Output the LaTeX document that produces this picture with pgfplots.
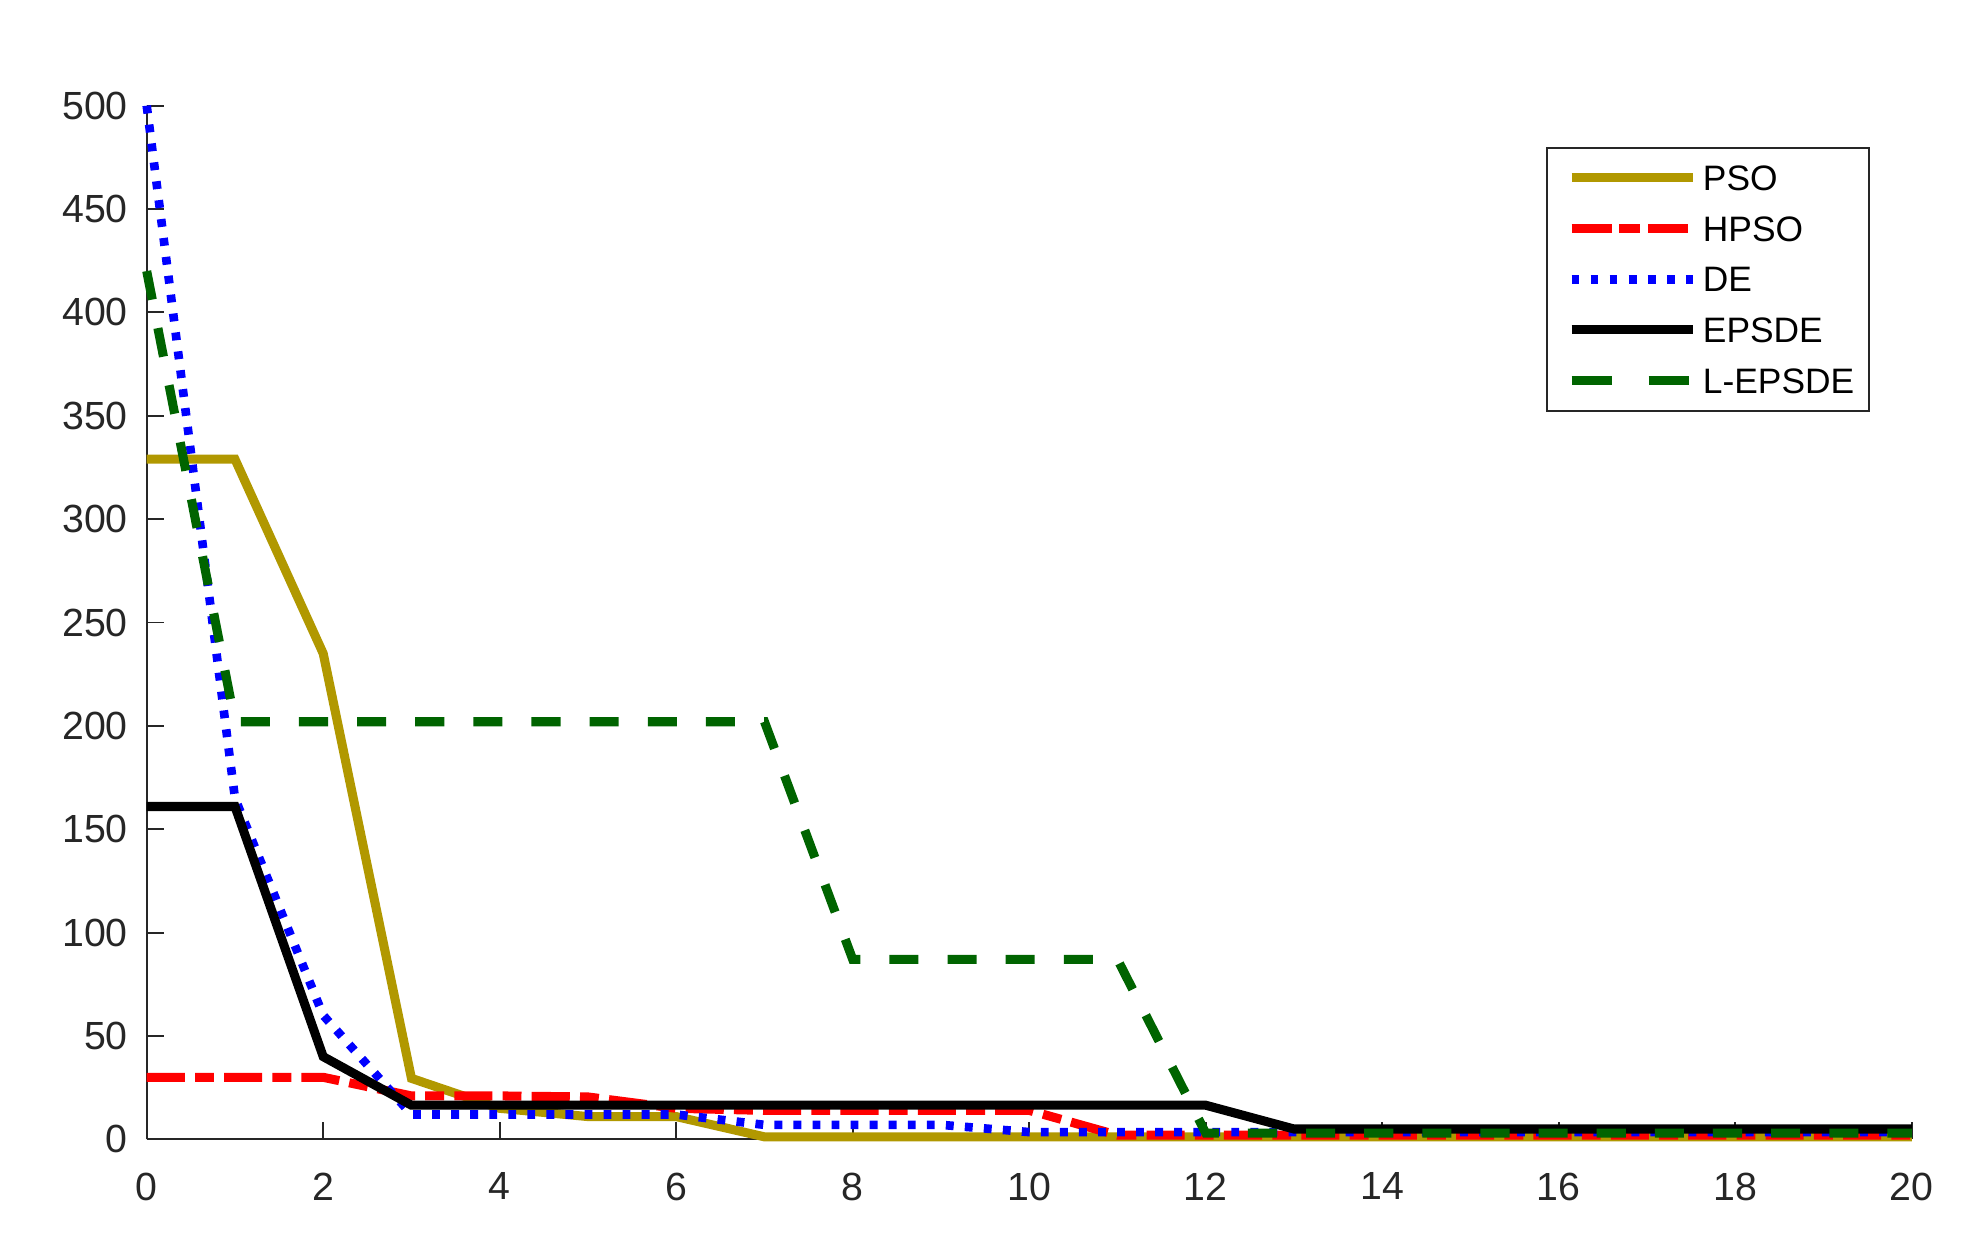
\documentclass[border=0pt]{standalone}
\usepackage{fontspec}
\setmainfont{Liberation Sans}
\usepackage{pgfplots}
\pgfplotsset{compat=1.18}
\definecolor{psoc}{RGB}{177,152,0}
\definecolor{grn}{RGB}{0,100,0}
\definecolor{axc}{RGB}{38,38,38}
\begin{document}
\begin{tikzpicture}
\useasboundingbox (-37.35pt,-26.65pt) rectangle (462.65pt,290.05pt);
\begin{axis}[
  at={(0pt,0pt)}, anchor=south west,
  scale only axis, width=449.35pt, height=263.15pt,
  xmin=0, xmax=20, ymin=0, ymax=500,
  axis x line*=bottom, axis y line*=left,
  axis line style={axc, line width=0.5pt, -},
  xtick={0,2,...,20}, ytick={0,50,...,500},
  tick align=inside, major tick length=4.5pt,
  tick style={axc, line width=0.5pt},
  ticklabel style={font=\fontsize{10}{12}\selectfont, text=axc},
  /pgf/number format/assume math mode=true,
  xticklabel style={yshift=-5pt},
  yticklabel style={xshift=-1.3pt},
  clip=false,
  legend cell align=left,
  legend style={at={(0.9764,0.96)}, anchor=north east, draw=axc, line width=0.5pt, fill=white,
    font=\fontsize{9}{10}\selectfont, text=black,
    inner xsep=3.8pt, inner ysep=4.4pt, row sep=6.45pt, column sep=1.3pt,
    nodes={inner sep=0pt, text height=6.45pt, text depth=0pt}},
  legend image code/.code={\path (0pt,0pt); \draw[#1] (1.3pt,0pt) -- (32.3pt,0pt);},
]
\addplot[psoc, line width=2.3pt] coordinates {
(0,329) (1,329) (2,235) (3,29.5) (4,15) (5,11) (6,11) (7,1.2) (8,1.2) (9,1.2) (10,1.2)
(11,1.2) (12,1.2) (13,1.2) (14,1.2) (15,1.2) (16,1.2) (17,1.2) (18,1.2) (19,1.2) (20,1.2)};
\addlegendentry{PSO}
\addplot[red, line width=2.3pt, dash pattern=on 9.7pt off 2.6pt on 4.8pt off 2.6pt,
  legend image post style={dash pattern=on 10.2pt off 2pt on 5.3pt off 2pt}] coordinates {
(0,30) (1,30) (2,30) (3,21) (4,21) (5,20.5) (6,15) (7,14) (8,14) (9,14) (10,14)
(11,2) (12,2) (13,2) (14,2) (15,2) (16,2) (17,2) (18,2) (19,2) (20,2)};
\addlegendentry{HPSO}
\addplot[blue, line width=2.2pt, dash pattern=on 2pt off 2.85pt] coordinates {
(0,500) (1,165) (2,60) (3,12) (4,12) (5,12) (6,12) (7,7) (8,7) (9,7) (10,3.5)
(11,3.5) (12,3.5) (13,3.5) (14,3.5) (15,3.5) (16,3.5) (17,3.5) (18,3.5) (19,3.5) (20,3.5)};
\addlegendentry{DE}
\addplot[black, line width=2.3pt] coordinates {
(0,161) (1,161) (2,40) (3,16.5) (4,16.5) (5,16.5) (6,16.5) (7,16.5) (8,16.5) (9,16.5) (10,16.5)
(11,16.5) (12,16.5) (13,5) (14,5) (15,5) (16,5) (17,5) (18,5) (19,5) (20,5)};
\addlegendentry{EPSDE}
\addplot[grn, line width=2.3pt, dash pattern=on 7.4pt off 7.4pt,
  legend image post style={dash pattern=on 10.2pt off 9.4pt}] coordinates {
(0,420) (1,202) (2,202) (3,202) (4,202) (5,202) (6,202) (7,202) (8,87) (9,87) (10,87)
(11,87) (12,3) (13,3) (14,3) (15,3) (16,3) (17,3) (18,3) (19,3) (20,3)};
\addlegendentry{L-EPSDE}
\end{axis}
\end{tikzpicture}
\end{document}
